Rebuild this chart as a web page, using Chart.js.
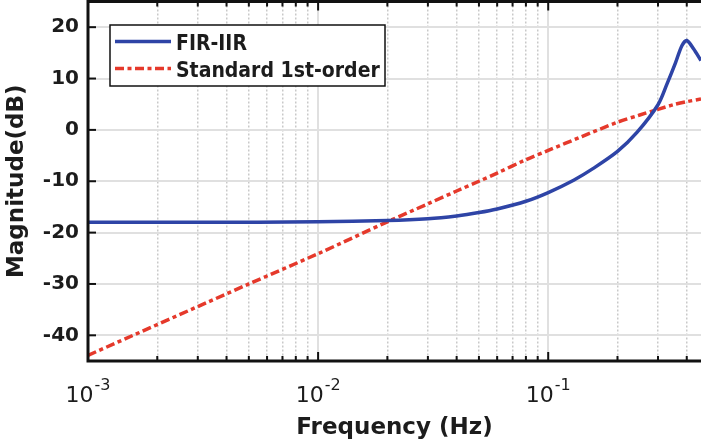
<!DOCTYPE html>
<html>
<head>
<meta charset="utf-8">
<script src="https://cdn.jsdelivr.net/npm/chart.js@4/dist/chart.umd.min.js"></script>
<style>
  html, body { margin: 0; padding: 0; background: #fff; overflow: hidden; }
  #wrap { width: 701px; height: 446px; }
</style>
</head>
<body>
<div id="wrap"><canvas id="mycanvas"></canvas></div>
<script>
// data
var firFreq = [0.001, 0.003, 0.01, 0.02, 0.03, 0.04, 0.05, 0.06, 0.08, 0.1, 0.129, 0.157, 0.2, 0.243, 0.3, 0.328, 0.357, 0.381, 0.4, 0.428, 0.4613];
var firMag  = [-18.0, -18.0, -17.9, -17.65, -17.3, -16.75, -16.1, -15.4, -13.9, -12.2, -9.8, -7.5, -4.2, -0.5, 4.9, 8.9, 13.0, 16.4, 17.4, 15.8, 13.5];

var stdFreq = [0.001, 0.005, 0.01, 0.02, 0.03, 0.04, 0.05, 0.06, 0.08, 0.1, 0.14, 0.2, 0.25, 0.3, 0.35, 0.4, 0.4613];
var stdMag  = [-43.9, -30.0, -24.1, -17.9, -14.4, -11.9, -10.0, -8.4, -5.8, -4.0, -1.3, 1.5, 2.9, 4.0, 4.9, 5.5, 6.0];

var seriesNames = ['FIR-IIR', 'Standard 1st-order'];

var yTicks = [-40, -30, -20, -10, 0, 10, 20];
var xTicks = [0.001, 0.002, 0.003, 0.004, 0.005, 0.006, 0.007, 0.008, 0.009,
              0.01, 0.02, 0.03, 0.04, 0.05, 0.06, 0.07, 0.08, 0.09,
              0.1, 0.2, 0.3, 0.4];
var xDecades = [0.001, 0.01, 0.1];
var xDecadeExp = ['-3', '-2', '-1'];

var blue = '#2e44a6';
var red = '#e5392b';
var ink = '#1c1c1c';

function isDecade(v) {
	var l = Math.log10(v);
	return Math.abs(l - Math.round(l)) < 1e-6;
}

function pts(xs, ys) {
	var out = [];
	for (var i in xs) out.push({x: xs[i], y: ys[i]});
	return out;
}

// frame, inward ticks, legend box and 10^n labels
var decor = {
	id: 'decor',
	afterDatasetsDraw: function(chart) {
		var c = chart.ctx, a = chart.chartArea;
		var xs = chart.scales.x, ys = chart.scales.y;
		c.save();
		c.strokeStyle = '#111';
		c.lineCap = 'butt';

		// ticks
		c.lineWidth = 2;
		xs.ticks.forEach(function(t) {
			var px = xs.getPixelForValue(t.value);
			var len = isDecade(t.value) ? 9 : 5;
			c.beginPath();
			c.moveTo(px, a.bottom); c.lineTo(px, a.bottom - len);
			c.moveTo(px, a.top); c.lineTo(px, a.top + len);
			c.stroke();
		});
		ys.ticks.forEach(function(t) {
			var py = ys.getPixelForValue(t.value);
			c.beginPath();
			c.moveTo(a.left, py); c.lineTo(a.left + 8, py);
			c.stroke();
		});

		// spines
		c.lineWidth = 3;
		c.beginPath();
		c.moveTo(a.right + 2, a.top); c.lineTo(a.left, a.top);
		c.lineTo(a.left, a.bottom); c.lineTo(a.right + 2, a.bottom);
		c.stroke();

		// x labels as 10^n
		c.fillStyle = ink;
		c.textBaseline = 'alphabetic';
		c.textAlign = 'left';
		xDecades.forEach(function(v, i) {
			var px = xs.getPixelForValue(v);
			c.font = '22px "DejaVu Sans"';
			var w1 = c.measureText('10').width;
			c.font = '16px "DejaVu Sans"';
			var w2 = c.measureText(xDecadeExp[i]).width;
			var x0 = px - (w1 + w2 + 1) / 2;
			c.font = '22px "DejaVu Sans"';
			c.fillText('10', x0, 402);
			c.font = '16px "DejaVu Sans"';
			c.fillText(xDecadeExp[i], x0 + w1 + 1, 390);
		});

		// legend
		var bx = 110, by = 25, bw = 275, bh = 61;
		c.fillStyle = '#fff';
		c.fillRect(bx, by, bw, bh);
		c.lineWidth = 1.5;
		c.strokeStyle = '#111';
		c.strokeRect(bx, by, bw, bh);
		var rows = [41.5, 68.5];
		chart.data.datasets.forEach(function(ds, i) {
			c.strokeStyle = ds.borderColor;
			c.lineWidth = ds.borderWidth;
			c.setLineDash(ds.borderDash || []);
			c.beginPath();
			c.moveTo(115, rows[i]); c.lineTo(171, rows[i]);
			c.stroke();
			c.setLineDash([]);
			c.fillStyle = ink;
			c.font = 'bold 21px "DejaVu Sans Condensed", "DejaVu Sans"';
			c.fillText(ds.label, 176, rows[i] + 8);
		});
		c.restore();
	}
};

var ctx = document.getElementById('mycanvas');

var chartdata = {
	datasets: [
		{
			label: seriesNames[0],
			data: pts(firFreq, firMag),
			borderColor: blue,
			borderWidth: 3.5,
			tension: 0.3,
			pointRadius: 0,
			fill: false
		},
		{
			label: seriesNames[1],
			data: pts(stdFreq, stdMag),
			borderColor: red,
			borderWidth: 3.5,
			borderDash: [9, 3.5, 4, 3.5],
			tension: 0.3,
			pointRadius: 0,
			fill: false
		}
	]
};

var chart = new Chart(ctx, {
	type: 'line',
	data: chartdata,
	plugins: [decor],
	options: {
		responsive: true,
		maintainAspectRatio: false,
		devicePixelRatio: 1,
		animation: false,
		layout: { padding: { top: 1.5, right: 0, bottom: 0, left: 0 } },
		plugins: {
			legend: { display: false },
			tooltip: { enabled: false }
		},
		scales: {
			x: {
				type: 'logarithmic',
				min: 0.001,
				max: 0.4613,
				afterBuildTicks: function(s) {
					s.ticks = xTicks.map(function(v) { return {value: v}; });
				},
				afterFit: function(s) {
					s.height = 85;
					s.paddingLeft = 0;
					s.paddingRight = 0;
				},
				ticks: { display: false },
				grid: {
					drawTicks: false,
					color: function(c) { return c.tick && isDecade(c.tick.value) ? '#e0e0e0' : '#c9c9c9'; },
					lineWidth: function(c) { return c.tick && isDecade(c.tick.value) ? 2 : 1.5; }
				},
				border: {
					display: false,
					dash: function(c) { return c.tick && isDecade(c.tick.value) ? [] : [2, 2]; }
				},
				title: {
					display: true,
					text: 'Frequency (Hz)',
					color: ink,
					font: { family: 'DejaVu Sans', size: 23, weight: 'bold' },
					padding: { top: 0, bottom: 4 }
				}
			},
			y: {
				type: 'linear',
				min: -45,
				max: 25,
				afterBuildTicks: function(s) {
					s.ticks = yTicks.map(function(v) { return {value: v}; });
				},
				afterFit: function(s) {
					s.width = 88;
					s.paddingTop = 0;
					s.paddingBottom = 0;
				},
				ticks: {
					color: ink,
					padding: 9,
					font: { family: 'DejaVu Sans', size: 20, weight: 'bold' }
				},
				grid: { drawTicks: false, color: '#e0e0e0', lineWidth: 2 },
				border: { display: false },
				title: {
					display: true,
					text: 'Magnitude(dB)',
					color: ink,
					font: { family: 'DejaVu Sans', size: 23, weight: 'bold' },
					padding: { top: 3, bottom: 0 }
				}
			}
		}
	}
});
</script>
</body>
</html>
